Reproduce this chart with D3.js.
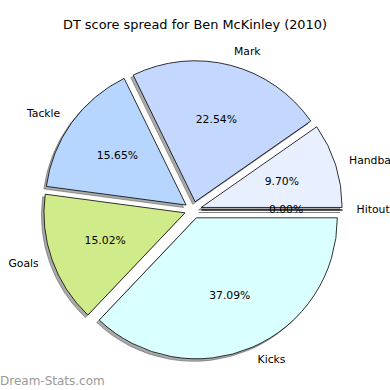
<!DOCTYPE html>
<html><head><meta charset="utf-8">
<script src="https://cdn.jsdelivr.net/npm/d3@7"></script>
<style>body{margin:0;background:#fff}svg{display:block}</style>
</head><body>
<script>
const categories = ["Hitout", "Handball", "Mark", "Tackle", "Goals", "Kicks"];
const values = [0.00, 9.70, 22.54, 15.65, 15.02, 37.09];
const pctLabels = ["0.00%", "9.70%", "22.54%", "15.65%", "15.02%", "37.09%"];
const colors = ["#e0e0e0", "#e8f0ff", "#c4d8ff", "#b6d6ff", "#d0eb8a", "#daffff"];
const title = "DT score spread for Ben McKinley (2010)";

const W = 390, H = 390;
const cx = 193, cy = 210, R = 141, explode = 8.5;
const svg = d3.select("body").append("svg").attr("width", W).attr("height", H);

svg.append("text").attr("x", 195).attr("y", 25).attr("text-anchor", "middle")
  .attr("dominant-baseline", "middle").style("font-family", "DejaVu Sans")
  .style("font-size", "12.9px").attr("fill", "#000").text(title);

const pie = d3.pie().sort(null).value(d => d.v).startAngle(Math.PI / 2).endAngle(Math.PI / 2 - 2 * Math.PI);
const data = pie(categories.map((c, i) => ({ c, v: values[i], p: pctLabels[i], col: colors[i] })));
const arc = d3.arc().innerRadius(0).outerRadius(R);

function apex(d) {
  const mid = (d.startAngle + d.endAngle) / 2;
  return [cx + explode * Math.sin(mid), cy - explode * Math.cos(mid), mid];
}

const g = svg.append("g");
data.forEach(d => {
  const [ax, ay] = apex(d);
  g.append("path").attr("d", arc(d) || `M0,0L${R},0`)
    .attr("transform", `translate(${ax - 2.5},${ay + 2.5})`)
    .attr("fill", "#555").attr("fill-opacity", 0.5)
    .attr("stroke", "#555").attr("stroke-opacity", 0.5).attr("stroke-width", 1);
});
data.forEach(d => {
  const [ax, ay] = apex(d);
  g.append("path").attr("d", arc(d) || `M0,0L${R},0`)
    .attr("transform", `translate(${ax},${ay})`)
    .attr("fill", d.data.col).attr("stroke", "#000").attr("stroke-width", 0.8);
});
data.forEach(d => {
  const [ax, ay, mid] = apex(d);
  const lx = ax + 1.1 * R * Math.sin(mid), ly = ay - 1.1 * R * Math.cos(mid);
  svg.append("text").attr("x", lx).attr("y", ly)
    .attr("text-anchor", Math.sin(mid) > 0 ? "start" : "end")
    .attr("dominant-baseline", "middle").style("font-family", "DejaVu Sans")
    .style("font-size", "10.8px").attr("fill", "#000").text(d.data.c);
  const px = ax + 0.6 * R * Math.sin(mid), py = ay - 0.6 * R * Math.cos(mid);
  svg.append("text").attr("x", px).attr("y", py).attr("text-anchor", "middle")
    .attr("dominant-baseline", "middle").style("font-family", "DejaVu Sans")
    .style("font-size", "10.8px").attr("fill", "#000").text(d.data.p);
});

svg.append("text").attr("x", 0).attr("y", 385).style("font-family", "DejaVu Sans")
  .style("font-size", "12px").attr("fill", "#999").text("Dream-Stats.com");
</script>
</body></html>
